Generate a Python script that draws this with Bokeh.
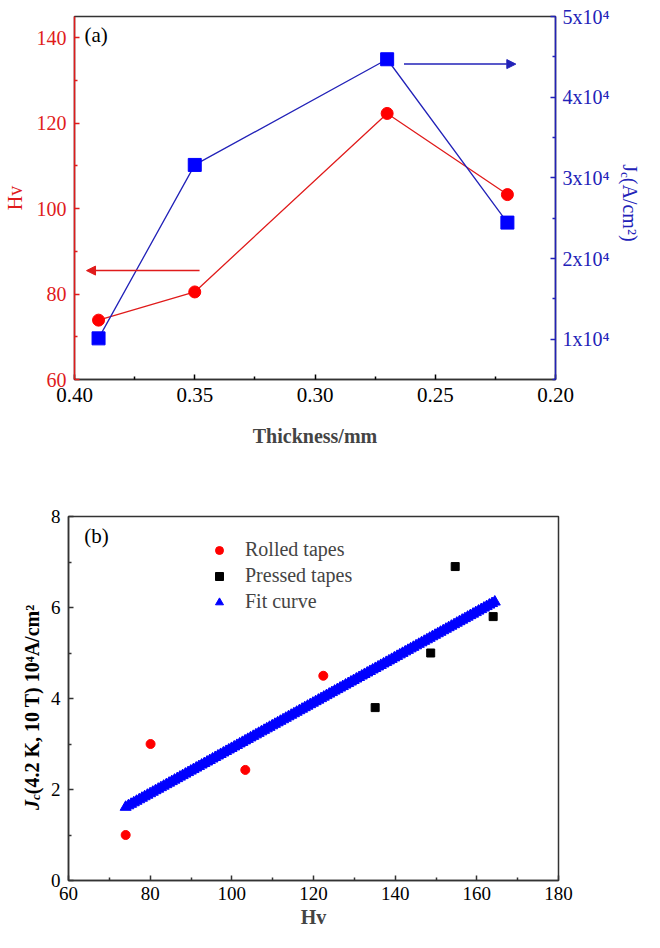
import numpy as np
from bokeh.plotting import figure
from bokeh.models import (Range1d, LinearAxis, FixedTicker, Label, Arrow, NormalHead,
                          Legend, LegendItem, PrintfTickFormatter)
from bokeh.layouts import column, row
from bokeh.embed import file_html
from bokeh.resources import INLINE

# ---------------- data: panel (a) ----------------
thickness = [0.39, 0.35, 0.27, 0.22]
hv_a = [73.9, 80.5, 122.3, 103.3]
jc_a = [10100, 31600, 44700, 24450]

thick_ticks = [0.40, 0.35, 0.30, 0.25, 0.20]
thick_minor = [0.375, 0.325, 0.275, 0.225]
hv_ticks = [60, 80, 100, 120, 140]
hv_minor = [70, 90, 110, 130]
jc_ticks = [10000, 20000, 30000, 40000, 50000]
jc_minor = [5000, 15000, 25000, 35000, 45000]
jc_tick_labels = ["1x10⁴", "2x10⁴", "3x10⁴", "4x10⁴", "5x10⁴"]

# arrows (tail x, head x, level)
arrow_hv_x = [0.348, 0.395]
arrow_hv_y = 85.5
arrow_jc_x = [0.263, 0.2165]
arrow_jc_y = 44100

# ---------------- data: panel (b) ----------------
rolled_hv = [74.0, 80.1, 103.3, 122.4]
rolled_jc = [1.0, 3.0, 2.43, 4.5]
pressed_hv = [135.1, 148.7, 154.7, 164.0]
pressed_jc = [3.8, 5.0, 6.9, 5.8]
fit_slope = 0.0499
fit_intercept = -2.08
fit_hv_range = [74.0, 164.4]
fit_count = 137

hvb_ticks = [60, 80, 100, 120, 140, 160, 180]
hvb_minor = [70, 90, 110, 130, 150, 170]
jcb_ticks = [0, 2, 4, 6, 8]
jcb_minor = [1, 3, 5, 7]

FONT = "Liberation Serif"
RED = "#e01b1b"
RED_MARK = "#ff0000"
BLUE = "#2222b8"
BLUE_MARK = "#0000ff"
FRAME = "#333333"


def style_axis(ax, color, size, ticks, minor):
    ax.ticker = FixedTicker(ticks=ticks, minor_ticks=minor)
    ax.axis_line_color = color
    ax.axis_line_width = 1.5
    ax.major_tick_line_color = color
    ax.major_tick_line_width = 1.5
    ax.minor_tick_line_color = color
    ax.minor_tick_line_width = 1.5
    ax.major_tick_in = 5
    ax.major_tick_out = 0
    ax.minor_tick_in = 3
    ax.minor_tick_out = 0
    ax.major_label_text_font = FONT
    ax.major_label_text_font_size = f"{size}px"
    ax.major_label_text_color = color
    ax.major_label_standoff = 8
    ax.axis_label_text_font = FONT
    ax.axis_label_text_font_size = "20px"
    ax.axis_label_text_font_style = "normal"


def add_text(p, x, y, text, size, color="black", style="normal", angle=0.0,
             align="left", baseline="alphabetic"):
    p.add_layout(Label(x=x, y=y, x_units="screen", y_units="screen", text=text,
                       text_font=FONT, text_font_size=f"{size}px", text_font_style=style,
                       text_color=color, angle=angle, text_align=align,
                       text_baseline=baseline))


def label_strip(width, height):
    s = figure(width=width, height=height, output_backend="svg", toolbar_location=None,
               x_axis_type=None, y_axis_type=None, min_border=0,
               x_range=Range1d(0, 1), y_range=Range1d(0, 1))
    s.outline_line_color = None
    s.grid.visible = False
    s.background_fill_color = "white"
    s.border_fill_color = "white"
    return s


# ================= panel (a) =================
p1 = figure(width=612, height=470, x_range=Range1d(0.40, 0.20), y_range=Range1d(60, 145),
            output_backend="svg", toolbar_location=None,
            min_border_left=70, min_border_right=53, min_border_top=16, min_border_bottom=91)
p1.extra_y_ranges = {"jc": Range1d(5000, 50000)}
p1.xgrid.visible = False
p1.ygrid.visible = False
p1.outline_line_color = FRAME
p1.outline_line_width = 1.5
p1.background_fill_color = "white"
p1.border_fill_color = "white"

style_axis(p1.xaxis[0], "black", 21, thick_ticks, thick_minor)
p1.xaxis[0].formatter = PrintfTickFormatter(format="%.2f")
p1.xaxis[0].axis_line_color = FRAME
p1.xaxis[0].axis_label = "Thickness/mm"
p1.xaxis[0].axis_label_text_font_style = "bold"
p1.xaxis[0].axis_label_standoff = 20

style_axis(p1.yaxis[0], RED, 20, hv_ticks, hv_minor)
p1.yaxis[0].axis_label = "Hv"
p1.yaxis[0].axis_label_text_color = RED
p1.yaxis[0].axis_label_standoff = 8

ax_r = LinearAxis(y_range_name="jc")
style_axis(ax_r, BLUE, 20, jc_ticks, jc_minor)
ax_r.major_label_standoff = 7
ax_r.major_label_overrides = {t: l for t, l in zip(jc_ticks, jc_tick_labels)}
p1.add_layout(ax_r, "right")

p1.line(thickness, hv_a, line_color=RED, line_width=1.3)
p1.scatter(thickness, hv_a, marker="circle", size=12, fill_color=RED_MARK, line_color=RED_MARK)
p1.line(thickness, jc_a, line_color=BLUE, line_width=1.3, y_range_name="jc")
p1.scatter(thickness, jc_a, marker="square", size=13, fill_color=BLUE_MARK,
           line_color=BLUE_MARK, y_range_name="jc")

p1.add_layout(Arrow(end=NormalHead(size=9, fill_color=RED, line_color=RED),
                    x_start=arrow_hv_x[0], y_start=arrow_hv_y,
                    x_end=arrow_hv_x[1], y_end=arrow_hv_y,
                    line_color=RED, line_width=1.5))
p1.add_layout(Arrow(end=NormalHead(size=9, fill_color=BLUE, line_color=BLUE),
                    x_start=arrow_jc_x[0], y_start=arrow_jc_y,
                    x_end=arrow_jc_x[1], y_end=arrow_jc_y,
                    line_color=BLUE, line_width=1.5, y_range_name="jc"))

add_text(p1, 10, 345, "(a)", 21, baseline="middle")

# right-hand axis title J_c(A/cm²), read top to bottom, in its own strip
# (the strip's frame is aligned with the frame of panel (a))
lab1 = label_strip(32, 470)
add_text(lab1, 17, 215.3, "J", 20, color=BLUE, angle=-np.pi / 2)
add_text(lab1, 13, 207.5, "c", 13, color=BLUE, angle=-np.pi / 2)
add_text(lab1, 17, 201.7, "(A/cm²)", 20, color=BLUE, angle=-np.pi / 2)

# ================= panel (b) =================
p2 = figure(width=600, height=462, x_range=Range1d(60, 180), y_range=Range1d(0, 8),
            output_backend="svg", toolbar_location=None,
            min_border_left=24, min_border_right=86, min_border_top=46, min_border_bottom=52)
p2.xgrid.visible = False
p2.ygrid.visible = False
p2.outline_line_color = FRAME
p2.outline_line_width = 1.5
p2.background_fill_color = "white"
p2.border_fill_color = "white"

style_axis(p2.xaxis[0], FRAME, 19, hvb_ticks, hvb_minor)
p2.xaxis[0].major_label_text_color = "black"
p2.xaxis[0].major_label_standoff = 6
p2.xaxis[0].axis_label = "Hv"
p2.xaxis[0].axis_label_text_font_style = "bold"
p2.xaxis[0].axis_label_standoff = 3
style_axis(p2.yaxis[0], FRAME, 19, jcb_ticks, jcb_minor)
p2.yaxis[0].major_label_text_color = "black"

fit_hv = np.linspace(fit_hv_range[0], fit_hv_range[1], fit_count)
fit_jc = fit_slope * fit_hv + fit_intercept

r_fit = p2.scatter(fit_hv, fit_jc, marker="triangle", size=11,
                   fill_color=BLUE_MARK, line_color=BLUE_MARK)
r_rolled = p2.scatter(rolled_hv, rolled_jc, marker="circle", size=9,
                      fill_color=RED_MARK, line_color=RED_MARK)
r_pressed = p2.scatter(pressed_hv, pressed_jc, marker="square", size=8,
                       fill_color="black", line_color="black")

legend = Legend(items=[LegendItem(label="Rolled tapes", renderers=[r_rolled]),
                       LegendItem(label="Pressed tapes", renderers=[r_pressed]),
                       LegendItem(label="Fit curve", renderers=[r_fit])],
                location=(141, 267), glyph_width=20, glyph_height=20, label_height=20,
                label_standoff=16, spacing=3, padding=0, margin=0,
                label_text_font=FONT, label_text_font_size="20px",
                border_line_color=None, background_fill_alpha=0)
p2.add_layout(legend)

add_text(p2, 15.7, 344.5, "(b)", 21, baseline="middle")

# left-hand axis title J_c (4.2 K, 10 T) 10⁴A/cm², read bottom to top, in its own strip
# (the strip's frame is aligned with the frame of panel (b))
lab2 = label_strip(44, 462)
add_text(lab2, 31, 70.5, "J", 20, style="bold italic", angle=np.pi / 2)
add_text(lab2, 35, 80.5, "c", 13, style="bold italic", angle=np.pi / 2)
add_text(lab2, 31, 86.3, " (4.2 K, 10 T) 10⁴A/cm²", 20, style="bold", angle=np.pi / 2)

layout = column(row(p1, lab1, spacing=0), row(lab2, p2, spacing=0), spacing=0)
open("out.html", "w").write(file_html(layout, INLINE))
